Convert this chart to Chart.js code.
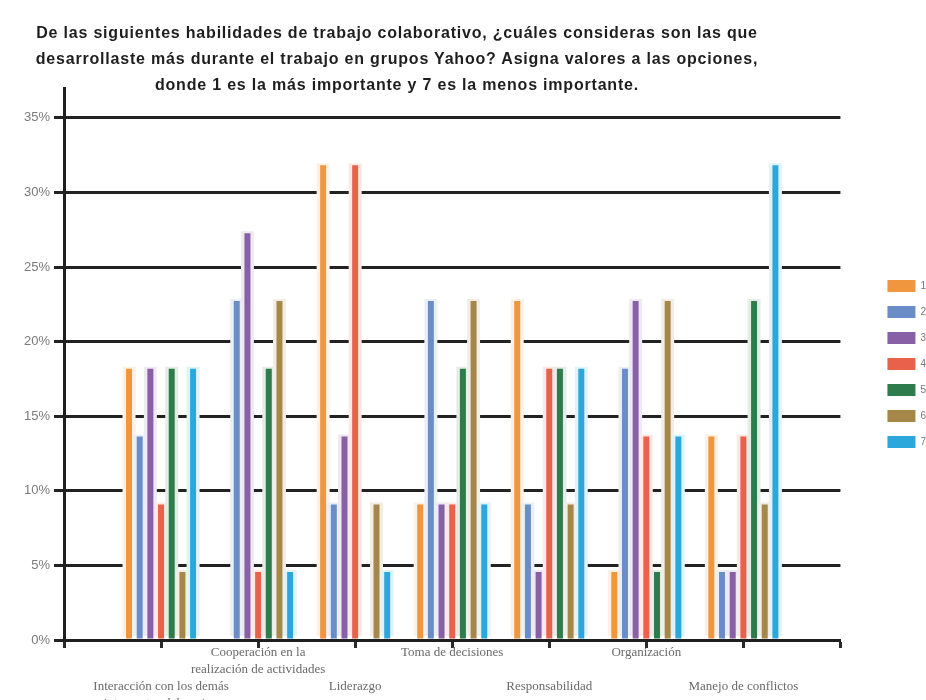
<!DOCTYPE html>
<html lang="es">
<head>
<meta charset="utf-8">
<title>Habilidades de trabajo colaborativo</title>
<script src="https://cdn.jsdelivr.net/npm/chart.js@4.4.1/dist/chart.umd.min.js"></script>
<style>
  html, body { margin: 0; padding: 0; background: #fff; overflow: hidden; width: 926px; height: 700px; }
  #wrap { position: relative; width: 926px; height: 700px; overflow: hidden; }
  #title {
    position: absolute; left: 0; top: 20px; width: 794px; z-index: 2;
    text-align: center; color: #1e1e1e; letter-spacing: 0.8px;
    font: bold 16px "Liberation Sans", Arial, sans-serif; line-height: 26px;
  }
  #chart { position: absolute; left: 0; top: 0; }
</style>
</head>
<body>
<div id="wrap">
  <div id="title">De las siguientes habilidades de trabajo colaborativo, ¿cuáles consideras son las que<br>desarrollaste más durante el trabajo en grupos Yahoo? Asigna valores a las opciones,<br>donde 1 es la más importante y 7 es la menos importante.</div>
  <canvas id="chart" width="936" height="700"></canvas>
</div>
<script>
// Skills being ranked (x axis)
const categories = [
  ['Interacción con los demás', 'integrantes del equipo'],
  ['Cooperación en la', 'realización de actividades'],
  ['Liderazgo'],
  ['Toma de decisiones'],
  ['Responsabilidad'],
  ['Organización'],
  ['Manejo de conflictos']
];

// Share of answers (%) that gave each rank to each skill
const rank1 = [18.18, 0, 31.82, 9.09, 22.73, 4.55, 13.64];
const rank2 = [13.64, 22.73, 9.09, 22.73, 9.09, 18.18, 4.55];
const rank3 = [18.18, 27.27, 13.64, 9.09, 4.55, 22.73, 4.55];
const rank4 = [9.09, 4.55, 31.82, 9.09, 18.18, 13.64, 13.64];
const rank5 = [18.18, 18.18, 0, 18.18, 18.18, 4.55, 22.73];
const rank6 = [4.55, 22.73, 9.09, 22.73, 9.09, 22.73, 9.09];
const rank7 = [18.18, 4.55, 4.55, 9.09, 18.18, 13.64, 31.82];

const seriesNames = ['1', '2', '3', '4', '5', '6', '7'];
const seriesData = [rank1, rank2, rank3, rank4, rank5, rank6, rank7];
const seriesColors = ['#F0963E', '#6A8DC8', '#8760A6', '#E9604B', '#2E7C4B', '#A5874A', '#2BA7DC'];

// Y axis range and tick spacing (percent)
const yMax = 37;
const yStep = 5;

// The axis has an empty slot before the first and after the last skill
const axisLabels = ['', ...categories.map(c => c.join(' ')), ''];
const pad = arr => [null, ...arr, null];

function tint(hex, k) {
  const n = parseInt(hex.slice(1), 16);
  const r = (n >> 16) & 255, g = (n >> 8) & 255, b = n & 255;
  const m = v => Math.round(v + (255 - v) * k);
  return `rgb(${m(r)},${m(g)},${m(b)})`;
}

// Soft glow around each bar, painted over the grid before the bars
const barGlow = {
  id: 'barGlow',
  beforeDatasetsDraw(chart) {
    const ctx = chart.ctx;
    ctx.save();
    chart.data.datasets.forEach((ds, i) => {
      const meta = chart.getDatasetMeta(i);
      if (meta.hidden) return;
      meta.data.forEach(bar => {
        const p = bar.getProps(['x', 'y', 'base', 'width'], true);
        if (!isFinite(p.y) || p.y >= p.base - 0.5) return;
        const w = p.width + 7;
        ctx.fillStyle = tint(ds.backgroundColor, 0.86);
        ctx.fillRect(p.x - w / 2, p.y - 2, w, p.base - p.y - 0.5);
      });
    });
    ctx.restore();
  }
};

new Chart(document.getElementById('chart'), {
  type: 'bar',
  data: {
    labels: axisLabels,
    datasets: seriesNames.map((name, i) => ({
      label: name,
      data: pad(seriesData[i]),
      backgroundColor: seriesColors[i],
      borderWidth: 0,
      categoryPercentage: 0.77,
      barPercentage: 0.56
    }))
  },
  options: {
    responsive: false,
    animation: false,
    layout: { padding: { top: 88, left: 0, right: 0, bottom: 0 } },
    plugins: {
      legend: {
        position: 'right',
        fullSize: false,
        labels: {
          boxWidth: 28,
          boxHeight: 12,
          padding: 14,
          color: '#777',
          font: { family: '"Liberation Sans", Arial, sans-serif', size: 10 }
        }
      },
      title: { display: false },
      tooltip: { enabled: false }
    },
    scales: {
      x: {
        offset: false,
        grid: {
          offset: false,
          drawOnChartArea: false,
          drawTicks: true,
          tickLength: 8,
          tickWidth: 3,
          tickColor: '#2a2a2a'
        },
        border: { display: true, color: '#1f1f1f', width: 3 },
        ticks: {
          autoSkip: false,
          maxRotation: 0,
          minRotation: 0,
          padding: -4,
          color: '#6a6a6a',
          font: { family: '"Liberation Serif", "Times New Roman", serif', size: 13, lineHeight: '17px' },
          callback(value, index) {
            const c = categories[index - 1];
            if (!c) return '';
            // alternate rows so neighbouring labels do not collide
            return (index % 2 === 1) ? ['', '', ...c] : c;
          }
        },
        afterFit(s) { s.height = 60; }
      },
      y: {
        min: 0,
        max: yMax,
        grid: {
          color: '#222',
          lineWidth: 3,
          drawTicks: true,
          tickLength: 10
        },
        border: { display: true, color: '#1f1f1f', width: 3 },
        ticks: {
          stepSize: yStep,
          includeBounds: false,
          padding: 4,
          color: '#7a7a7a',
          font: { family: '"Liberation Sans", Arial, sans-serif', size: 13 },
          callback: v => v + '%'
        },
        afterFit(s) { s.width = 64; }
      },
      gap: {
        type: 'linear',
        position: 'right',
        display: true,
        grid: { display: false },
        border: { display: false },
        ticks: { display: false },
        afterFit(s) { s.width = 33; }
      }
    }
  },
  plugins: [barGlow]
});
</script>
</body>
</html>
